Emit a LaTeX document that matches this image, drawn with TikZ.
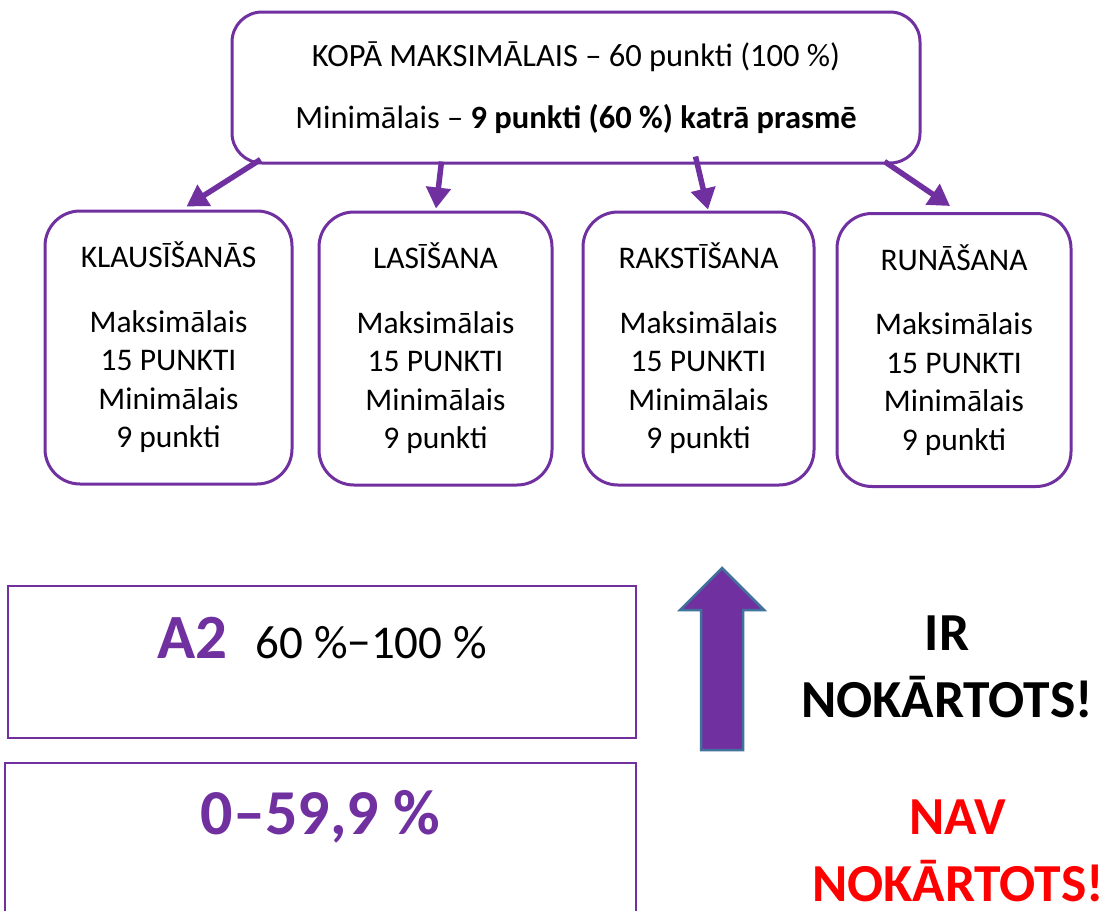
\documentclass[tikz,border=0pt]{standalone}
\usepackage{fontspec}
\setmainfont{Carlito}
\usetikzlibrary{arrows.meta}
\definecolor{lvpurple}{HTML}{7030A0}
\definecolor{arrowedge}{HTML}{41719C}
\definecolor{navred}{HTML}{FF0000}
\tikzset{
  topbox/.style={draw=lvpurple,line width=3pt,rounded corners=30pt,align=center,inner sep=0pt},
  skillbox/.style={draw=lvpurple,line width=3pt,rounded corners=35pt,align=center,inner sep=0pt,
    minimum height=273pt,font=\fontsize{31.5}{38.5}\selectfont},
  bandbox/.style={draw=lvpurple,line width=2.5pt,inner sep=0pt},
  linkarrow/.style={draw=lvpurple,line width=5.5pt,-{Triangle[length=21pt,width=24pt]}},
  verdict/.style={font=\fontsize{53.5}{67}\selectfont\bfseries,align=center,inner sep=0pt}
}
\begin{document}
\begin{tikzpicture}[x=1pt,y=-1pt]
			\clip (0,0) rectangle (1107,910);
			\node[topbox,minimum width=688pt,minimum height=151pt,font=\fontsize{32.5}{62}\selectfont] (top) at (576,87.5)
			  {KOPĀ MAKSIMĀLAIS – 60 punkti (100 \%)\\Minimālais – \textbf{9 punkti (60 \%) katrā prasmē}};
			\node[skillbox,minimum width=247pt] (klaus) at (168.5,347.5)
			  {KLAUSĪŠANĀS\\[26pt]Maksimālais\\15 PUNKTI\\Minimālais\\9 punkti};
			\node[skillbox,minimum width=233pt] (lasis) at (435.5,348.5)
			  {LASĪŠANA\\[26pt]Maksimālais\\15 PUNKTI\\Minimālais\\9 punkti};
			\node[skillbox,minimum width=231pt] (rakst) at (698.5,348.5)
			  {RAKSTĪŠANA\\[26pt]Maksimālais\\15 PUNKTI\\Minimālais\\9 punkti};
			\node[skillbox,minimum width=234pt] (runas) at (954,350)
			  {RUNĀŠANA\\[26pt]Maksimālais\\15 PUNKTI\\Minimālais\\9 punkti};
			\draw[linkarrow] ([xshift=30pt,yshift=5pt]top.south west) -- ([xshift=143pt,yshift=3pt]klaus.north west);
			\draw[linkarrow] ([xshift=211pt,yshift=3pt]top.south west) -- ([xshift=0.5pt,yshift=2pt]lasis.north);
			\draw[linkarrow] ([xshift=465pt,yshift=8pt]top.south west) -- ([xshift=9.5pt,yshift=1pt]rakst.north);
			\draw[linkarrow] ([xshift=-37pt,yshift=3pt]top.south east) -- ([xshift=-4pt,yshift=6pt]runas.north);
			% vertejuma joslas
			\node[bandbox,minimum width=628pt,minimum height=152pt] (pass) at (322,662) {};
			\node[bandbox,minimum width=631pt,minimum height=170pt] (fail) at (320.5,848) {};
			\node[anchor=base,inner sep=0pt] (passtxt) at ([yshift=-74pt]pass.north)
			  {\fontsize{63}{63}\selectfont\bfseries\color{lvpurple}A2\ \ \fontsize{47}{47}\selectfont\mdseries\color{black}60 \%−100 \%};
			\node[anchor=base,inner sep=0pt,font=\fontsize{64}{64}\selectfont\bfseries,text=lvpurple] (failtxt)
			  at ([yshift=-73pt]fail.north) {0–59,9 \%};
			\draw[fill=lvpurple,draw=arrowedge,line width=2.5pt,line join=miter]
			  (722,568) -- (764,610) -- (743,610) -- (743,750) -- (701,750) -- (701,610) -- (680,610) -- cycle;
			\node[verdict] (ir) at (947,667) {IR\\NOKĀRTOTS!};
			\node[verdict,text=navred] (nav) at (958,851) {NAV\\NOKĀRTOTS!};
\end{tikzpicture}
\end{document}
